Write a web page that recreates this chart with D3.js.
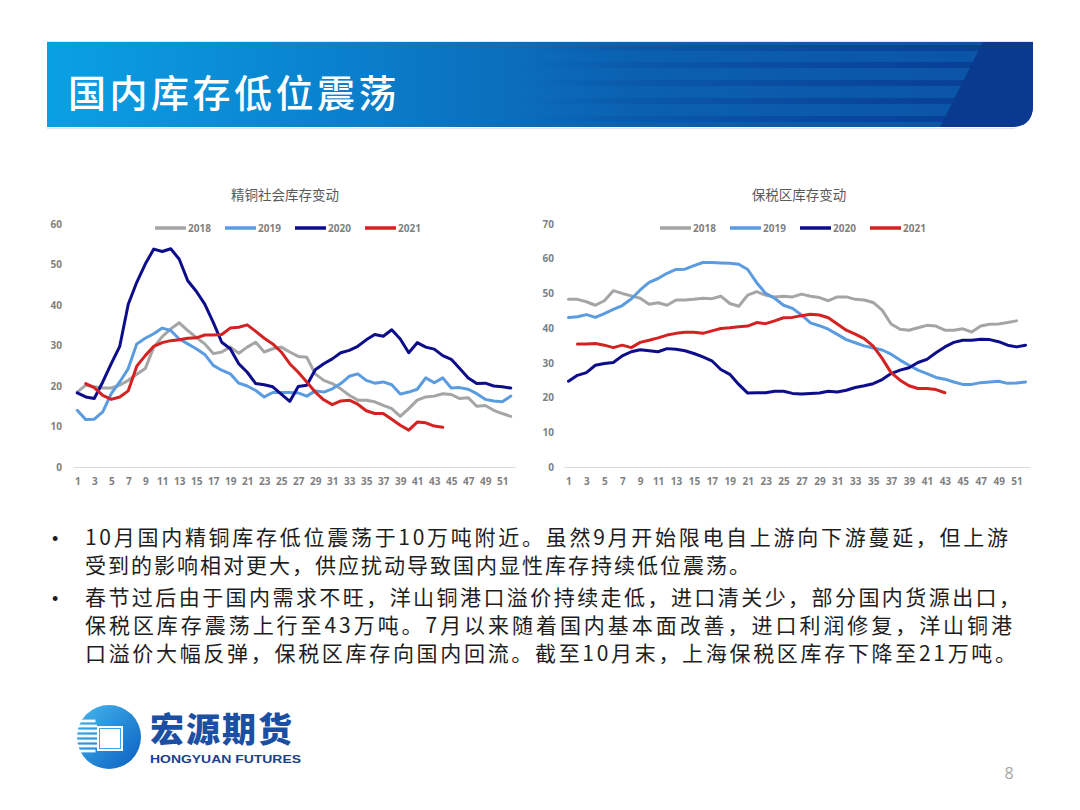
<!DOCTYPE html>
<html><head><meta charset="utf-8">
<script src="https://cdn.jsdelivr.net/npm/d3@7"></script>
<style>
html,body{margin:0;padding:0;background:#fff;}
svg{display:block;}
</style></head>
<body>
<svg id="c" width="1080" height="810"></svg>
<script>
// ---------- DATA ----------
const weeks = Array.from({length: 52}, (_, i) => i + 1);
const weekTicks = weeks.filter(w => w % 2 === 1);
const seriesNames = ["2018", "2019", "2020", "2021"];
const seriesColors = ["#a5a5a5", "#5b9be0", "#0d0d8c", "#d42222"];

// 精铜社会库存变动 (万吨)
const refined2018 = [18.5,20.2,19.8,19.5,19.5,20.2,21.4,22.9,24.3,29.6,32.2,34.1,35.6,33.7,32,30.4,28,28.4,29.6,28.1,29.6,30.8,28.4,29.2,29.6,28.4,27.3,27.1,23,21.4,20.6,19.3,17.7,16.5,16.5,16.1,15.2,14.4,12.5,14.4,16.5,17.3,17.5,18.1,17.9,16.9,17.1,15,15.2,14,13.2,12.5];
const refined2019 = [14,11.7,11.8,13.6,18.1,21,24.3,30.4,31.8,32.9,34.3,33.7,31.6,30.4,29.2,27.8,25.1,23.9,23,20.7,20,18.9,17.3,18.4,18.4,18.4,18.3,17.5,18.8,18.5,19.3,20.6,22.4,23,21.4,20.7,21,20.3,18,18.5,19.2,22,20.8,22,19.5,19.6,19.2,18.1,16.7,16.3,16.1,17.5];
const refined2020 = [18.3,17.3,16.9,21,25.5,29.8,40.2,45.6,50.1,53.8,53.2,53.9,51.3,46,43.4,40.2,35.7,30.8,29.2,25.5,23.4,20.6,20.3,19.8,18,16.2,19.9,20.2,24,25.5,26.7,28.2,28.8,29.8,31.4,32.7,32.3,33.9,31.6,28.2,30.7,29.6,29.1,27.5,26.6,24.3,22,20.6,20.7,20,19.8,19.5];
const refined2021 = [null,20.6,19.6,17.7,16.7,17.3,18.8,24.9,27.5,29.8,30.7,31.2,31.4,31.8,31.9,32.6,32.6,32.7,34.3,34.5,35.1,33.5,31.8,30.4,28.4,25.5,23.4,21,18.5,16.6,15.4,16.3,16.5,15.5,13.9,13.2,13.2,11.8,10.3,9.1,11.1,10.9,10.1,9.8];
const refinedTicks = [0,10,20,30,40,50,60];

// 保税区库存变动 (万吨)
const bonded2018 = [48.3,48.3,47.6,46.6,47.9,50.8,50,49.3,48.6,46.9,47.3,46.6,48.1,48.1,48.3,48.6,48.5,49.2,47.1,46.3,49.5,50.5,49.5,49,49.2,49,49.8,49.2,48.8,47.9,49,49,48.3,48.1,47.4,45.2,41.2,39.7,39.4,40.1,40.8,40.6,39.4,39.4,39.8,38.9,40.6,41.1,41.2,41.6,42.1];
const bonded2019 = [43.1,43.3,43.9,43.1,44.2,45.4,46.5,48.4,51,53.2,54.3,55.8,56.9,57,58,58.9,58.9,58.8,58.7,58.4,56.9,53.1,50,48.6,46.6,45.7,43.8,41.5,40.7,39.7,38.2,36.7,35.8,34.9,34.3,33.7,32.5,30.8,29.3,27.9,26.9,25.8,25.3,24.5,23.8,23.8,24.3,24.5,24.7,24.1,24.2,24.5];
const bonded2020 = [24.7,26.4,27.2,29.3,29.8,30.1,32,33.2,33.8,33.5,33.2,34.1,33.9,33.5,32.7,31.7,30.6,28.1,26.7,23.8,21.3,21.4,21.4,21.8,21.8,21.2,21,21.2,21.3,21.8,21.6,22.1,22.9,23.4,24,25.2,26.9,27.9,28.6,30.1,31,32.9,34.6,35.9,36.5,36.5,36.8,36.7,36.1,35.1,34.6,35.1];
const bonded2021 = [null,35.4,35.4,35.6,35.1,34.4,35.1,34.4,35.9,36.5,37.2,38,38.5,38.8,38.8,38.5,39.2,39.9,40.1,40.4,40.6,41.6,41.3,42.1,43,43.1,43.6,44,43.8,43,41.2,39.4,38.3,37,34.8,31.3,27.2,25,23.4,22.6,22.6,22.3,21.4];
const bondedTicks = [0,10,20,30,40,50,60,70];

const pageTitle = "国内库存低位震荡";
const chartTitles = ["精铜社会库存变动", "保税区库存变动"];
const bodyLines = [
  "10月国内精铜库存低位震荡于10万吨附近。虽然9月开始限电自上游向下游蔓延，但上游",
  "受到的影响相对更大，供应扰动导致国内显性库存持续低位震荡。",
  "春节过后由于国内需求不旺，洋山铜港口溢价持续走低，进口清关少，部分国内货源出口，",
  "保税区库存震荡上行至43万吨。7月以来随着国内基本面改善，进口利润修复，洋山铜港",
  "口溢价大幅反弹，保税区库存向国内回流。截至10月末，上海保税区库存下降至21万吨。"
];

// ---------- DRAW ----------
const svg = d3.select("#c");
const defs = svg.append("defs");
const CJK = "'Noto Sans CJK SC','Noto Sans',sans-serif";

// Banner
const bg = defs.append("linearGradient").attr("id","bannerGrad").attr("x1","0").attr("x2","1").attr("y1","0").attr("y2","0");
[[0,"#0aa0e4"],[0.3,"#0a80cc"],[0.6,"#0b60b0"],[1,"#0b52a6"]].forEach(s=>bg.append("stop").attr("offset",s[0]).attr("stop-color",s[1]));
const sg = defs.append("linearGradient").attr("id","stripeGrad").attr("gradientUnits","userSpaceOnUse").attr("x1",520).attr("x2",990).attr("y1",0).attr("y2",0);
sg.append("stop").attr("offset",0).attr("stop-color","#07388f").attr("stop-opacity",0);
sg.append("stop").attr("offset",1).attr("stop-color","#07388f").attr("stop-opacity",0.75);

svg.append("line").attr("x1",47).attr("x2",1033).attr("y1",41.5).attr("y2",41.5).attr("stroke","#e6e6e6");
svg.append("path").attr("d","M47,42 H1033 V105 Q1033,127 1011,127 H47 Z").attr("fill","url(#bannerGrad)");
[45,62,80,98,116].forEach(y=>{
  svg.append("rect").attr("x",520).attr("y",y).attr("width",470).attr("height",6).attr("fill","url(#stripeGrad)");
});
svg.append("path").attr("d","M983,42 H1033 V105 Q1033,127 1011,127 H940 Z").attr("fill","#0a3990");
svg.append("line").attr("x1",47).attr("x2",1015).attr("y1",128.5).attr("y2",128.5).attr("stroke","#e2e2e2");
svg.append("text").attr("x",68).attr("y",107).attr("fill","#fff")
  .attr("font-family",CJK).attr("font-size",38).attr("font-weight",500).attr("letter-spacing",3.5)
  .text(pageTitle);

// Charts
function drawChart(cfg){
  const g = svg.append("g");
  const x = d3.scalePoint().domain(weeks).range([cfg.x0, cfg.x1]).padding(0.5);
  const y = d3.scaleLinear().domain([0, cfg.yMax]).range([467, 224]);

  g.append("text").attr("x",cfg.titleX).attr("y",200).attr("text-anchor","middle")
    .attr("font-family",CJK).attr("font-size",13.5).attr("fill","#595959").text(cfg.title);

  const yAxis = d3.axisLeft(y).tickValues(cfg.ticks).tickSize(0).tickPadding(cfg.yPad);
  const ya = g.append("g").attr("transform",`translate(${cfg.x0},0)`).call(yAxis);
  ya.select(".domain").remove();
  ya.selectAll("text").attr("font-family","'Open Sans',sans-serif").attr("font-weight",700).attr("font-size",10).attr("fill","#7f7f7f");

  const xAxis = d3.axisBottom(x).tickValues(weekTicks).tickSize(0).tickPadding(11);
  const xa = g.append("g").attr("transform","translate(0,467)").call(xAxis);
  xa.select(".domain").attr("stroke","#d9d9d9").attr("stroke-width",1.2);
  xa.selectAll("text").attr("font-family","'Open Sans',sans-serif").attr("font-weight",700).attr("font-size",10).attr("fill","#7f7f7f");

  const line = d3.line().defined(d => d != null).x((d,i)=>x(weeks[i])).y(d=>y(d));
  cfg.series.forEach((s,i)=>{
    g.append("path").attr("d", line(s)).attr("fill","none").attr("stroke",seriesColors[i])
      .attr("stroke-width",3).attr("stroke-linejoin","round").attr("stroke-linecap","round");
  });

  // legend
  const lg = g.append("g").attr("transform",`translate(${cfg.legendX},228)`);
  seriesNames.forEach((n,i)=>{
    const ox = i*70;
    lg.append("line").attr("x1",ox).attr("x2",ox+31).attr("y1",0).attr("y2",0)
      .attr("stroke",seriesColors[i]).attr("stroke-width",3.5);
    lg.append("text").attr("x",ox+33).attr("y",3.6).attr("font-family","'Open Sans',sans-serif")
      .attr("font-weight",700).attr("font-size",10).attr("fill","#7f7f7f").text(n);
  });
}

drawChart({x0:73, x1:515, yMax:60, ticks:refinedTicks, yPad:11, title:chartTitles[0], titleX:285, legendX:155,
  series:[refined2018, refined2019, refined2020, refined2021]});
drawChart({x0:564, x1:1030, yMax:70, ticks:bondedTicks, yPad:10, title:chartTitles[1], titleX:799, legendX:660,
  series:[bonded2018, bonded2019, bonded2020, bonded2021]});

// Body text
const lineYs = [545, 573, 605, 633, 661];
const lineW = [923, null, 935, 927, 931];
bodyLines.forEach((t,i)=>{
  const tx = svg.append("text").attr("x",85).attr("y",lineYs[i]).attr("font-family",CJK)
    .attr("font-size",21).attr("fill","#1e1e1e").text(t);
  if (lineW[i]) tx.attr("textLength",lineW[i]).attr("lengthAdjust","spacing");
  else tx.attr("letter-spacing",2);
});
[0,2].forEach(i=>{
  svg.append("text").attr("x",52).attr("y",lineYs[i]).attr("font-family","'Liberation Sans',sans-serif")
    .attr("font-size",18).attr("fill","#1e1e1e").text("•");
});

// Logo
const lgGrad = defs.append("linearGradient").attr("id","logoGrad").attr("x1","0").attr("y1","0").attr("x2","1").attr("y2","1");
lgGrad.append("stop").attr("offset",0).attr("stop-color","#46b8ee");
lgGrad.append("stop").attr("offset",1).attr("stop-color","#0a5fc0");
svg.append("circle").attr("cx",109).attr("cy",737).attr("r",32).attr("fill","url(#logoGrad)");
[721,726,731,736,741,746,751].forEach((yy,i)=>{
  svg.append("rect").attr("x",76).attr("y",yy-1.4).attr("width",24 - Math.abs(i-3)*1.5).attr("height",2.8).attr("fill","#fff").attr("opacity",0.95);
});
svg.append("rect").attr("x",97).attr("y",726).attr("width",26).attr("height",25).attr("fill","#fff");
svg.append("rect").attr("x",99.5).attr("y",728.5).attr("width",21).attr("height",20).attr("fill","none").attr("stroke","#3aa6e6").attr("stroke-width",1);
svg.append("text").attr("x",150).attr("y",742).attr("font-family",CJK).attr("font-weight",900)
  .attr("font-size",34).attr("fill","#1b4fa3").attr("letter-spacing",2).text("宏源期货");
svg.append("text").attr("x",150).attr("y",763).attr("font-family","'Liberation Sans',sans-serif").attr("font-weight",700)
  .attr("font-size",11.5).attr("fill","#1b3f8f").attr("textLength",151).attr("lengthAdjust","spacingAndGlyphs").text("HONGYUAN FUTURES");

// Page number
svg.append("text").attr("x",1009).attr("y",779).attr("text-anchor","middle").attr("font-family","'Open Sans',sans-serif")
  .attr("font-size",16).attr("fill","#a6a6a6").text("8");
</script>
</body></html>
